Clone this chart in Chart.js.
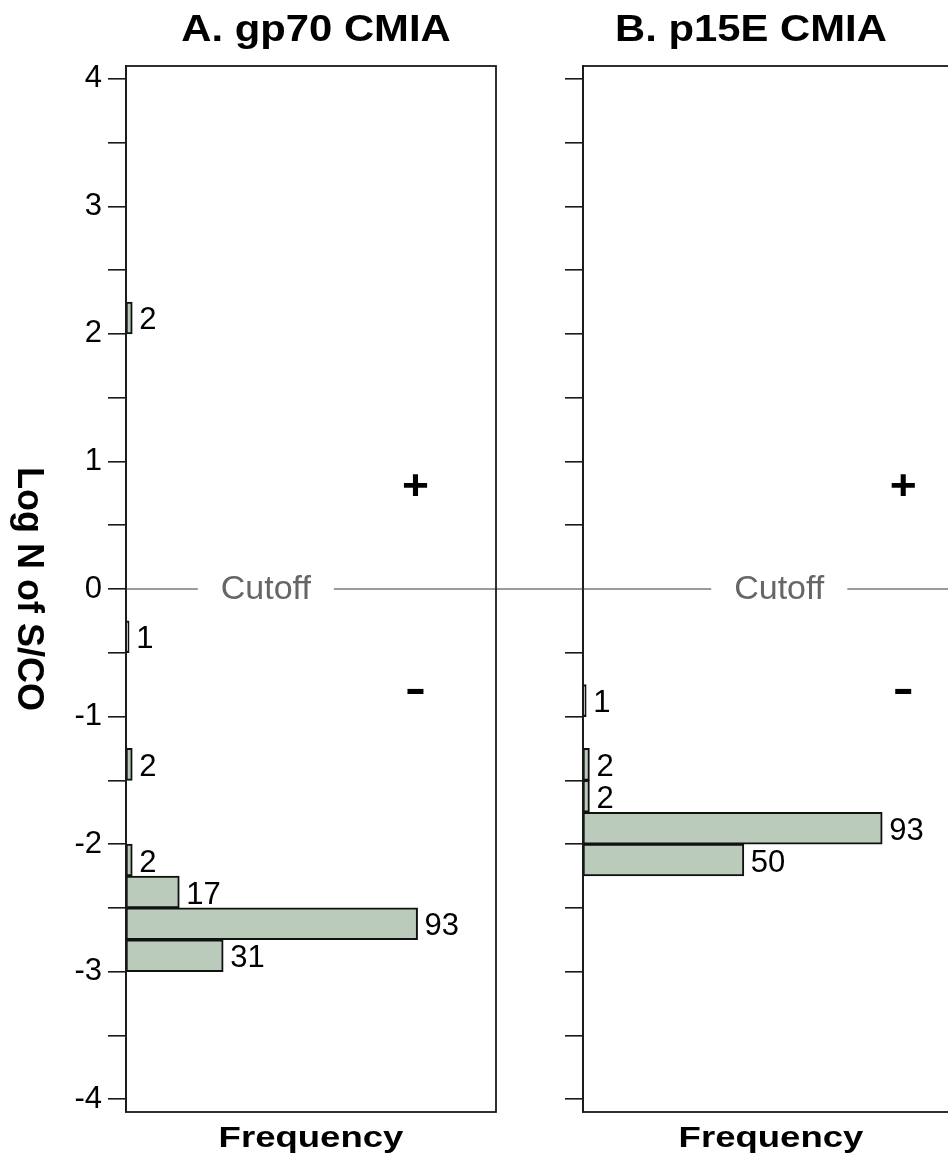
<!DOCTYPE html>
<html>
<head>
<meta charset="utf-8">
<script src="https://cdn.jsdelivr.net/npm/chart.js@4.4.1/dist/chart.umd.min.js"></script>
<style>
  html, body { margin: 0; padding: 0; background: #fff; overflow: hidden; width: 948px; height: 1162px; }
  .panel { position: absolute; top: 0; }
  #panelA { left: 0; }
  #panelB { left: 540px; }
</style>
</head>
<body>
<canvas id="panelA" class="panel" width="540" height="1162"></canvas>
<canvas id="panelB" class="panel" width="420" height="1162"></canvas>
<script>
// Log10 of signal-to-cutoff ratio: tick values and their labels
const yTickValues = [-4, -3.5, -3, -2.5, -2, -1.5, -1, -0.5, 0, 0.5, 1, 1.5, 2, 2.5, 3, 3.5, 4];
const yTickLabels = ['-4', '', '-3', '', '-2', '', '-1', '', '0', '', '1', '', '2', '', '3', '', '4'];

// Histogram bins (bin centres, width 0.25) and frequencies
const gp70Bins   = [2.125, -0.375, -1.375, -2.125, -2.375, -2.625, -2.875];
const gp70Counts = [2, 1, 2, 2, 17, 93, 31];

const p15eBins   = [-0.875, -1.375, -1.625, -1.875, -2.125];
const p15eCounts = [1, 2, 2, 93, 50];

const panelTitles = ['A. gp70 CMIA', 'B. p15E CMIA'];
const xAxisTitle = 'Frequency';
const yAxisTitle = 'Log N of S/CO';
const cutoffValue = 0;
const cutoffLabel = 'Cutoff';
const positiveSign = '+';
const negativeSign = '-';

const FONT = "'Liberation Sans', Arial, Helvetica, sans-serif";

function stretchedText(ctx, text, x, y, font, sx, align) {
  ctx.save();
  ctx.translate(x, y);
  ctx.scale(sx, 1);
  ctx.font = font;
  ctx.textAlign = align || 'center';
  ctx.fillText(text, 0, 0);
  ctx.restore();
}

// Frame, titles, cutoff line, +/- markers and bar value labels
const panelDecor = {
  id: 'panelDecor',
  afterDatasetsDraw(chart, args, opts) {
    const ctx = chart.ctx;
    const area = chart.chartArea;
    const xs = chart.scales.x, ys = chart.scales.y;

    // value labels next to each bar
    const ds = chart.data.datasets[0];
    const meta = chart.getDatasetMeta(0);
    ctx.save();
    ctx.fillStyle = '#000';
    ctx.font = '31px ' + FONT;
    ctx.textAlign = 'left';
    ctx.textBaseline = 'middle';
    meta.data.forEach((bar, i) => {
      ctx.fillText(String(ds.data[i].x), bar.x + 7, bar.y + 3);
    });
    ctx.restore();

    // cutoff line with its label
    const cy = ys.getPixelForValue(cutoffValue);
    const tx = xs.getPixelForValue(opts.cutoffAt);
    ctx.save();
    ctx.font = '34px ' + FONT;
    const tw = ctx.measureText(cutoffLabel).width;
    ctx.strokeStyle = '#9a9a9a';
    ctx.lineWidth = 2;
    ctx.beginPath();
    ctx.moveTo(opts.lineFromEdge ? 0 : area.left, cy);
    ctx.lineTo(tx - tw / 2 - 23, cy);
    ctx.moveTo(tx + tw / 2 + 23, cy);
    ctx.lineTo(chart.width, cy);
    ctx.stroke();
    ctx.fillStyle = '#666';
    ctx.textAlign = 'center';
    ctx.textBaseline = 'middle';
    ctx.fillText(cutoffLabel, tx, cy + 1);
    ctx.restore();

    // positive / negative region markers
    ctx.save();
    ctx.fillStyle = '#000';
    ctx.textBaseline = 'middle';
    const sx = xs.getPixelForValue(opts.signAt);
    stretchedText(ctx, positiveSign, sx, ys.getPixelForValue(0.8), 'bold 42px ' + FONT, 1.1);
    stretchedText(ctx, negativeSign, sx, ys.getPixelForValue(-0.8), 'bold 42px ' + FONT, 1.5);
    ctx.restore();

    // plot frame
    ctx.save();
    ctx.strokeStyle = '#1a1a1a';
    ctx.lineWidth = 1.8;
    ctx.strokeRect(area.left, area.top, area.right - area.left, area.bottom - area.top);
    ctx.restore();

    // panel title and axis titles
    ctx.save();
    ctx.fillStyle = '#000';
    ctx.textBaseline = 'alphabetic';
    const mid = (area.left + area.right) / 2;
    stretchedText(ctx, opts.title, mid + opts.titleDx, 41, 'bold 37px ' + FONT, 1.13);
    stretchedText(ctx, xAxisTitle, mid + opts.xTitleDx, 1147, 'bold 29px ' + FONT, 1.26);
    if (opts.showYTitle) {
      ctx.translate(18, (ys.getPixelForValue(4) + ys.getPixelForValue(-4)) / 2);
      ctx.rotate(Math.PI / 2);
      ctx.font = 'bold 36px ' + FONT;
      ctx.textAlign = 'center';
      ctx.fillText(yAxisTitle, 0, 0);
    }
    ctx.restore();
  }
};

function makePanel(canvasId, bins, counts, cfg) {
  return new Chart(document.getElementById(canvasId), {
    type: 'bar',
    data: {
      datasets: [{
        data: bins.map((b, i) => ({ y: b, x: counts[i] })),
        backgroundColor: '#bacabb',
        borderColor: '#111',
        borderWidth: 2,
        borderSkipped: false,
        barPercentage: 1,
        categoryPercentage: 1
      }]
    },
    options: {
      indexAxis: 'y',
      responsive: false,
      animation: false,
      events: [],
      layout: { padding: { top: 66, bottom: 50, left: 0, right: cfg.rightPad } },
      plugins: {
        legend: { display: false },
        tooltip: { enabled: false },
        title: { display: false },
        panelDecor: {
          title: cfg.title,
          titleDx: cfg.titleDx,
          xTitleDx: cfg.xTitleDx,
          cutoffAt: cfg.cutoffAt,
          signAt: cfg.signAt,
          showYTitle: cfg.showYTitle,
          lineFromEdge: cfg.lineFromEdge
        }
      },
      scales: {
        x: { type: 'linear', min: 0, max: cfg.xMax, display: false, offset: false },
        y: {
          type: 'linear',
          min: -4.1,
          max: 4.1,
          offset: false,
          afterBuildTicks: s => { s.ticks = yTickValues.map(v => ({ value: v })); },
          afterFit: s => { s.width = cfg.axisWidth; },
          ticks: {
            autoSkip: false,
            padding: 6,
            color: '#000',
            font: { family: FONT, size: 31 },
            callback: (v, i) => cfg.showTickLabels ? yTickLabels[i] : ''
          },
          grid: { offset: false, drawOnChartArea: false, drawTicks: true, tickLength: 18, color: '#1a1a1a', lineWidth: 1.6 },
          border: { display: true, color: '#1a1a1a', width: 1.8 }
        }
      }
    },
    plugins: [panelDecor]
  });
}

makePanel('panelA', gp70Bins, gp70Counts, {
  title: panelTitles[0], titleDx: 5, xTitleDx: 0, xMax: 118, axisWidth: 126, rightPad: 44,
  cutoffAt: 44.6, signAt: 92.3, showYTitle: true, showTickLabels: true, lineFromEdge: false
});
makePanel('panelB', p15eBins, p15eCounts, {
  title: panelTitles[1], titleDx: -17, xTitleDx: 3, xMax: 115, axisWidth: 43, rightPad: 7,
  cutoffAt: 61, signAt: 99.5, showYTitle: false, showTickLabels: false, lineFromEdge: true
});
</script>
</body>
</html>
